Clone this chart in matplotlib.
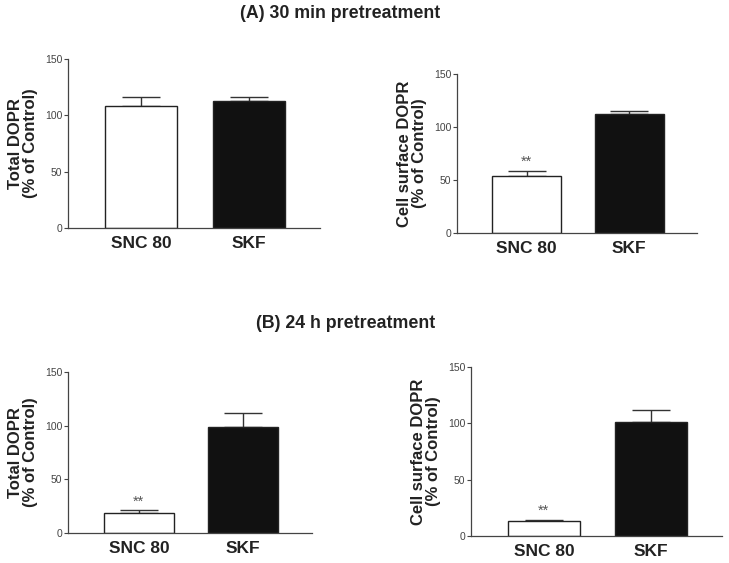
import numpy as np
import matplotlib
matplotlib.use("Agg")
from matplotlib import pyplot as plt

plt.rcParams['font.family'] = ['Liberation Sans', 'DejaVu Sans']

# Dane
groups = ['SNC 80', 'SKF']
total_30 = [108, 113]
total_30_err = [8, 3]
surface_30 = [54, 112]
surface_30_err = [5, 3]
total_24 = [19, 99]
total_24_err = [2, 13]
surface_24 = [13, 101]
surface_24_err = [1, 11]

stars_30_surface = ['**', '']
stars_24_total = ['**', '']
stars_24_surface = ['**', '']

yticks = [0, 50, 100, 150]

fig = plt.figure(figsize=(7.29, 5.63), dpi=100)


def panel(rect, values, errors, ylabel, stars=None):
    ax = fig.add_axes(rect)
    x = np.arange(len(groups))
    ax.bar(x, values, width=0.67, color=['white', '#111111'], edgecolor='#222222',
           linewidth=1.0, zorder=2)
    ax.errorbar(x, values, yerr=[np.zeros(len(errors)), errors], fmt='none',
                ecolor='#333333', elinewidth=1.0, capsize=13.5, capthick=1.0, zorder=1)
    if stars:
        for xi, v, e, s in zip(x, values, errors, stars):
            if s:
                ax.text(xi, v + e + 2, s, ha='center', va='bottom', fontsize=10.5,
                        color='#555555')
    ax.set_xlim(-0.68, 1.66)
    ax.set_ylim(0, 150)
    ax.set_yticks(yticks)
    ax.set_xticks(x)
    ax.set_xticklabels(groups, fontsize=12.5, fontweight='bold', color='#222222')
    ax.tick_params(axis='x', length=0, pad=6)
    ax.tick_params(axis='y', labelsize=7.5, labelcolor='#444444', length=3,
                   width=0.8, color='#444444', pad=1)
    for s in ['top', 'right']:
        ax.spines[s].set_visible(False)
    for s in ['left', 'bottom']:
        ax.spines[s].set_color('#444444')
        ax.spines[s].set_linewidth(0.9)
    ax.set_ylabel(ylabel, fontsize=12, fontweight='bold', color='#222222',
                  linespacing=1.0, labelpad=5)
    return ax


panel([0.0933, 0.595, 0.3457, 0.300], total_30, total_30_err,
      'Total DOPR\n(% of Control)')
panel([0.627, 0.586, 0.329, 0.2824], surface_30, surface_30_err,
      'Cell surface DOPR\n(% of Control)', stars_30_surface)
panel([0.0933, 0.0533, 0.3347, 0.286], total_24, total_24_err,
      'Total DOPR\n(% of Control)', stars_24_total)
panel([0.646, 0.048, 0.3443, 0.300], surface_24, surface_24_err,
      'Cell surface DOPR\n(% of Control)', stars_24_surface)

fig.text(340 / 729, 1 - 13 / 563, '(A) 30 min pretreatment', ha='center', va='center',
         fontsize=12.8, fontweight='bold', color='#222222')
fig.text(346 / 729, 1 - 323 / 563, '(B) 24 h pretreatment', ha='center', va='center',
         fontsize=12.8, fontweight='bold', color='#222222')

fig.savefig('out.png', dpi=100)
